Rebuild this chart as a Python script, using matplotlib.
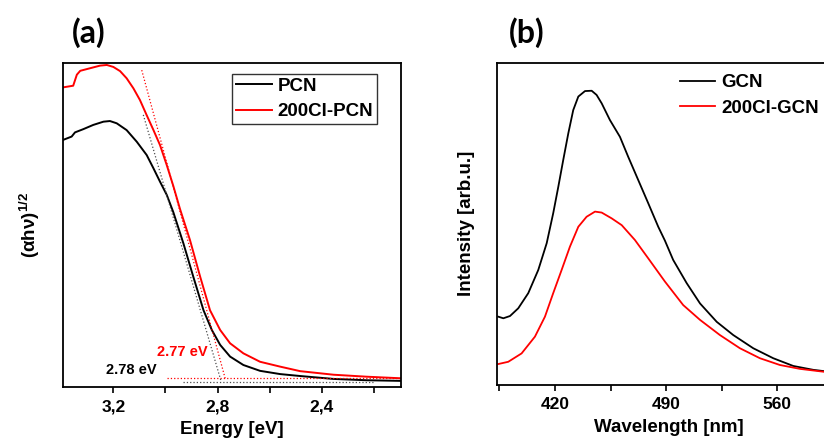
import matplotlib
matplotlib.use("Agg")
import matplotlib.pyplot as plt

plt.rcParams["font.family"] = ["Liberation Sans", "DejaVu Sans"]
plt.rcParams["font.weight"] = "bold"
plt.rcParams["axes.labelweight"] = "bold"
plt.rcParams["mathtext.fontset"] = "custom"
plt.rcParams["mathtext.rm"] = "Liberation Sans:bold"
plt.rcParams["mathtext.it"] = "Liberation Sans:italic:bold"

# (a) Tauc plot
energy_pcn = [3.392, 3.360, 3.347, 3.315, 3.277, 3.238, 3.213, 3.187, 3.149, 3.110,
              3.072, 3.046, 3.021, 2.995, 2.970, 2.931, 2.893, 2.854, 2.822, 2.790,
              2.752, 2.701, 2.637, 2.560, 2.483, 2.355, 2.230, 2.096]
tauc_pcn = [0.762, 0.772, 0.785, 0.795, 0.808, 0.818, 0.820, 0.813, 0.792, 0.756,
            0.715, 0.674, 0.633, 0.592, 0.539, 0.442, 0.339, 0.236, 0.175, 0.129,
            0.093, 0.067, 0.049, 0.039, 0.033, 0.024, 0.020, 0.018]
energy_cl = [3.392, 3.354, 3.340, 3.327, 3.289, 3.251, 3.225, 3.200, 3.174, 3.149,
             3.123, 3.098, 3.072, 3.046, 3.021, 2.995, 2.970, 2.944, 2.906, 2.867,
             2.829, 2.790, 2.752, 2.701, 2.637, 2.560, 2.483, 2.355, 2.230, 2.096]
tauc_cl = [0.924, 0.929, 0.963, 0.975, 0.983, 0.991, 0.993, 0.987, 0.974, 0.952,
           0.921, 0.885, 0.838, 0.792, 0.746, 0.684, 0.620, 0.548, 0.453, 0.340,
           0.236, 0.175, 0.134, 0.103, 0.077, 0.062, 0.048, 0.037, 0.031, 0.026]

# tangent / baseline lines
tan_cl_x = [3.091, 2.771]
tan_cl_y = [0.977, 0.026]
base_cl_x = [2.995, 2.099]
base_cl_y = [0.026, 0.026]
tan_pcn_x = [3.085, 2.788]
tan_pcn_y = [0.839, 0.021]
base_pcn_x = [2.931, 2.203]
base_pcn_y = [0.015, 0.015]

a_ticks = [3.2, 3.0, 2.8, 2.6, 2.4, 2.2]
a_ticklabels = ["3,2", "", "2,8", "", "2,4", ""]

# (b) PL spectra
wl_gcn = [384.3, 387.5, 391.7, 396.9, 403.2, 409.5, 414.8, 418.9, 422.1, 425.2,
          428.4, 431.5, 434.7, 438.9, 443.1, 446.2, 449.4, 454.6, 460.9, 466.1,
          472.4, 478.7, 485.0, 489.2, 494.4, 502.9, 511.3, 521.8, 532.2, 544.8,
          557.4, 570.0, 582.6, 589.3]
pl_gcn = [0.212, 0.207, 0.214, 0.238, 0.285, 0.357, 0.440, 0.533, 0.615, 0.698,
          0.781, 0.853, 0.895, 0.912, 0.913, 0.900, 0.874, 0.822, 0.770, 0.708,
          0.636, 0.564, 0.491, 0.448, 0.388, 0.316, 0.253, 0.196, 0.155, 0.114,
          0.083, 0.059, 0.047, 0.043]
wl_cl = [384.3, 390.6, 399.0, 407.4, 413.7, 418.9, 424.2, 429.4, 434.7, 439.9,
         445.2, 449.4, 455.7, 462.0, 470.3, 478.7, 489.2, 500.7, 511.3, 523.8,
         536.4, 549.0, 561.6, 574.2, 589.3]
pl_cl = [0.065, 0.072, 0.098, 0.150, 0.212, 0.285, 0.357, 0.429, 0.491, 0.522,
         0.538, 0.535, 0.517, 0.496, 0.450, 0.393, 0.321, 0.248, 0.202, 0.155,
         0.114, 0.083, 0.062, 0.050, 0.041]

b_ticks = [385, 420, 455, 490, 525, 560, 595]
b_ticklabels = ["", "420", "", "490", "", "560", ""]

fig = plt.figure(figsize=(8.24, 4.41), dpi=100)
ax1 = fig.add_axes([0.0765, 0.1231, 0.4102, 0.7347])
ax2 = fig.add_axes([0.6035, 0.127, 0.4171, 0.7308])

for ax in (ax1, ax2):
    for s in ax.spines.values():
        s.set_linewidth(1.3)
    ax.set_yticks([])
    ax.tick_params(axis="x", direction="out", length=4, width=1.2, labelsize=12.5, pad=5)

# panel a
ax1.plot(energy_pcn, tauc_pcn, color="black", lw=1.4, label="PCN")
ax1.plot(energy_cl, tauc_cl, color="red", lw=1.4, label="200Cl-PCN")
ax1.plot(tan_cl_x, tan_cl_y, ":", color="red", lw=0.9)
ax1.plot(base_cl_x, base_cl_y, ":", color="red", lw=0.9)
ax1.plot(tan_pcn_x, tan_pcn_y, ":", color="0.3", lw=0.9)
ax1.plot(base_pcn_x, base_pcn_y, ":", color="0.3", lw=0.9)
ax1.text(2.936, 0.107, "2.77 eV", color="red", fontsize=10.5, ha="center", va="center")
ax1.text(3.131, 0.052, "2.78 eV", color="black", fontsize=10.5, ha="center", va="center")
ax1.set_xlim(3.393, 2.096)
ax1.set_ylim(0, 1.0)
ax1.set_xticks(a_ticks)
ax1.set_xticklabels(a_ticklabels)
ax1.set_xlabel("Energy [eV]", fontsize=13.5, labelpad=5)
ax1.set_ylabel("(αhν)$^{1/2}$", fontsize=13.5, labelpad=15)
leg1 = ax1.legend(loc="upper right", bbox_to_anchor=(0.928, 0.965), borderaxespad=0,
                  fontsize=13.5, frameon=True, fancybox=False, edgecolor="black",
                  handlelength=1.9, handletextpad=0.3, labelspacing=0.45, borderpad=0.2)
leg1.get_frame().set_linewidth(1.0)

# panel b
ax2.plot(wl_gcn, pl_gcn, color="black", lw=1.3, label="GCN")
ax2.plot(wl_cl, pl_cl, color="red", lw=1.3, label="200Cl-GCN")
ax2.set_xlim(383.7, 600)
ax2.set_ylim(0, 1.0)
ax2.set_xticks(b_ticks)
ax2.set_xticklabels(b_ticklabels)
ax2.set_xlabel("Wavelength [nm]", fontsize=13.5, labelpad=5)
ax2.set_ylabel("Intensity [arb.u.]", fontsize=13.5, labelpad=16)
ax2.legend(loc="upper left", bbox_to_anchor=(0.825, 0.832), bbox_transform=fig.transFigure,
           borderaxespad=0, borderpad=0, frameon=False, fontsize=13.5,
           handlelength=1.9, handletextpad=0.3, labelspacing=0.45)

fig.text(0.108, 0.927, "(a)", fontsize=23, fontweight="bold", family="Lato", ha="center", va="center")
fig.text(0.639, 0.927, "(b)", fontsize=23, fontweight="bold", family="Lato", ha="center", va="center")

fig.savefig("out.png", dpi=100)
